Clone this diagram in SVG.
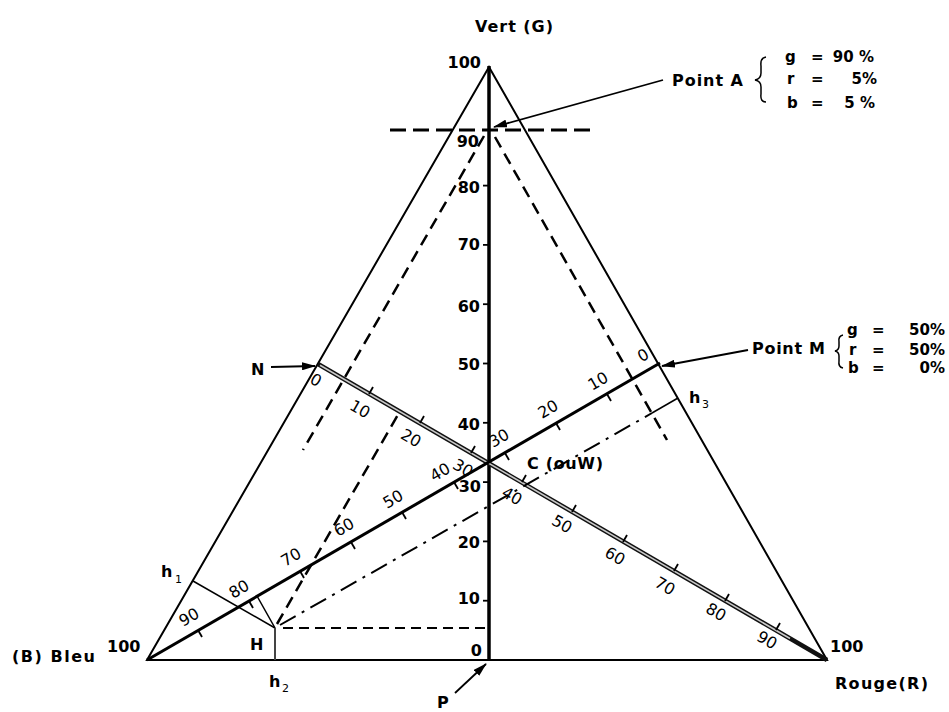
<svg xmlns="http://www.w3.org/2000/svg" width="949" height="712" viewBox="0 0 949 712">
<defs>
<marker id="ah" markerUnits="userSpaceOnUse" markerWidth="14" markerHeight="8" viewBox="0 0 14 8" refX="13" refY="4" orient="auto">
<path d="M0,0 L14,4 L0,8 z" fill="#000"/>
</marker>
<style>
.side{stroke:#000;stroke-width:2;fill:none}
.axis{stroke:#000;stroke-width:3.5}
.bm{stroke:#000;stroke-width:3}
.thin{stroke:#000;stroke-width:1.5;fill:none}
.dash{stroke:#000;stroke-width:2.5;stroke-dasharray:12 7;fill:none}
.dashA{stroke:#000;stroke-width:3;stroke-dasharray:16 7}
.dashH{stroke:#000;stroke-width:2;stroke-dasharray:10 6}
.dashdot{stroke:#000;stroke-width:2;stroke-dasharray:18 7 3 7;fill:none}
.tick{stroke:#000;stroke-width:1.8}
.arrow{stroke:#000;stroke-width:1.8;marker-end:url(#ah)}
.lab{font-family:"DejaVu Sans",sans-serif;font-weight:bold;font-size:16px;fill:#000}
.ax{font-family:"DejaVu Sans",sans-serif;font-weight:bold;font-size:16px;fill:#000;text-anchor:end}
.sc{font-family:"DejaVu Sans",sans-serif;font-size:16px;fill:#000;text-anchor:middle}
.pct{font-family:"DejaVu Sans",sans-serif;font-weight:bold;font-size:15px;fill:#000}
.sub{font-family:"DejaVu Sans",sans-serif;font-size:11px;fill:#000}
</style>
</defs>
<rect width="949" height="712" fill="#fff"/>

<g id="triangle">
<polygon class="side" points="147,660 827,660 489,67"/>
</g>

<g id="axis-g">
<line class="axis" x1="489" y1="66" x2="489" y2="661"/>
<g class="tick">
<line x1="483" y1="600.7" x2="489" y2="600.7"/>
<line x1="483" y1="541.4" x2="489" y2="541.4"/>
<line x1="483" y1="482.1" x2="489" y2="482.1"/>
<line x1="483" y1="422.8" x2="489" y2="422.8"/>
<line x1="483" y1="363.5" x2="489" y2="363.5"/>
<line x1="483" y1="304.2" x2="489" y2="304.2"/>
<line x1="483" y1="244.9" x2="489" y2="244.9"/>
<line x1="483" y1="185.6" x2="489" y2="185.6"/>
</g>
<text class="ax" x="481" y="68">100</text>
<text class="ax" x="479" y="141" dy="0.35em">90</text>
<text class="ax" x="480" y="187" dy="0.35em">80</text>
<text class="ax" x="480" y="244" dy="0.35em">70</text>
<text class="ax" x="480" y="306" dy="0.35em">60</text>
<text class="ax" x="480" y="364" dy="0.35em">50</text>
<text class="ax" x="480" y="424" dy="0.35em">40</text>
<text class="ax" x="481" y="486" dy="0.35em">30</text>
<text class="ax" x="480" y="542" dy="0.35em">20</text>
<text class="ax" x="480" y="598" dy="0.35em">10</text>
<text class="ax" x="482" y="650" dy="0.35em">0</text>
</g>

<g id="median-NR">
<line x1="318" y1="364" x2="827" y2="660" stroke="#111" stroke-width="4.5"/>
<line x1="320" y1="365.2" x2="790" y2="638.5" stroke="#c8c8c8" stroke-width="1.6"/>
<g class="tick">
<line x1="369" y1="394" x2="373" y2="387"/>
<line x1="420" y1="423" x2="424" y2="416"/>
<line x1="471" y1="453" x2="475" y2="446"/>
<line x1="522" y1="482" x2="526" y2="475"/>
<line x1="572" y1="512" x2="576" y2="505"/>
<line x1="623" y1="542" x2="627" y2="535"/>
<line x1="674" y1="571" x2="678" y2="564"/>
<line x1="725" y1="601" x2="729" y2="594"/>
<line x1="776" y1="630" x2="780" y2="623"/>
</g>
<text class="sc" transform="translate(316,380) rotate(30)" dy="0.35em">0</text>
<text class="sc" transform="translate(360,409) rotate(30)" dy="0.35em">10</text>
<text class="sc" transform="translate(411,438) rotate(30)" dy="0.35em">20</text>
<text class="sc" transform="translate(463,468) rotate(30)" dy="0.35em">30</text>
<text class="sc" transform="translate(512,496) rotate(30)" dy="0.35em">40</text>
<text class="sc" transform="translate(562,524) rotate(30)" dy="0.35em">50</text>
<text class="sc" transform="translate(615,556) rotate(30)" dy="0.35em">60</text>
<text class="sc" transform="translate(665,586) rotate(30)" dy="0.35em">70</text>
<text class="sc" transform="translate(716,612) rotate(30)" dy="0.35em">80</text>
<text class="sc" transform="translate(767,640) rotate(30)" dy="0.35em">90</text>
</g>

<g id="median-BM">
<line class="bm" x1="147" y1="660" x2="660" y2="363"/>
<g class="tick">
<line x1="607" y1="394" x2="611" y2="401"/>
<line x1="556" y1="423" x2="560" y2="430"/>
<line x1="505" y1="453" x2="509" y2="460"/>
<line x1="454" y1="482" x2="458" y2="489"/>
<line x1="402" y1="512" x2="406" y2="519"/>
<line x1="351" y1="542" x2="355" y2="549"/>
<line x1="300" y1="571" x2="304" y2="578"/>
<line x1="249" y1="601" x2="253" y2="608"/>
<line x1="198" y1="630" x2="202" y2="637"/>
</g>
<text class="sc" transform="translate(643,355) rotate(-30)" dy="0.35em">0</text>
<text class="sc" transform="translate(598,381) rotate(-30)" dy="0.35em">10</text>
<text class="sc" transform="translate(548,409) rotate(-30)" dy="0.35em">20</text>
<text class="sc" transform="translate(499,438) rotate(-30)" dy="0.35em">30</text>
<text class="sc" transform="translate(440,472) rotate(-30)" dy="0.35em">40</text>
<text class="sc" transform="translate(393,499) rotate(-30)" dy="0.35em">50</text>
<text class="sc" transform="translate(344,527) rotate(-30)" dy="0.35em">60</text>
<text class="sc" transform="translate(291,557) rotate(-30)" dy="0.35em">70</text>
<text class="sc" transform="translate(239,589) rotate(-30)" dy="0.35em">80</text>
<text class="sc" transform="translate(189,617) rotate(-30)" dy="0.35em">90</text>
</g>

<g id="point-A-lines">
<line class="dashA" x1="390" y1="130" x2="594" y2="130"/>
<line class="dash" x1="484" y1="136" x2="303" y2="450"/>
<line class="dash" x1="495" y1="137" x2="667" y2="440"/>
</g>

<g id="point-H">
<line class="thin" x1="275" y1="628" x2="193" y2="581"/>
<line class="thin" x1="275" y1="628" x2="257" y2="596"/>
<line x1="275" y1="628" x2="275" y2="660" stroke="#444" stroke-width="2"/>
<line class="dashH" x1="283" y1="628" x2="489" y2="628"/>
<line class="dash" x1="277" y1="624" x2="399" y2="413"/>
<line class="dashdot" x1="280" y1="625" x2="652" y2="413"/>
<line class="thin" x1="652" y1="413" x2="678" y2="398" stroke-width="2"/>
<text class="lab" x="250" y="650">H</text>
<text class="lab" x="161" y="577" font-weight="normal">h</text><text class="sub" x="175" y="583">1</text>
<text class="lab" x="269" y="687" font-weight="normal">h</text><text class="sub" x="282" y="692">2</text>
<text class="lab" x="689" y="403" font-weight="normal">h</text><text class="sub" x="702" y="408">3</text>
</g>

<g id="connectors">
<line class="arrow" x1="663" y1="80" x2="494" y2="127"/>
<line class="arrow" x1="748" y1="350" x2="662" y2="366"/>
<line class="arrow" x1="271" y1="367" x2="315" y2="366"/>
<line class="arrow" x1="455" y1="693" x2="486" y2="664"/>
</g>

<g id="label-vert">
<text class="lab" x="475" y="32" textLength="78" lengthAdjust="spacing">Vert (G)</text>
</g>

<g id="label-point-A">
<text class="lab" x="672" y="86" textLength="71" lengthAdjust="spacing">Point A</text>
<path class="thin" stroke-width="2" d="M766,57 Q760,58 761,66 L761,73 Q761,79 755,80 Q761,81 761,87 L761,94 Q760,102 766,102"/>
<text class="pct" x="785" y="62">g</text><text class="pct" x="811" y="62">=</text><text class="pct" x="874" y="62" text-anchor="end">90 %</text>
<text class="pct" x="787" y="84">r</text><text class="pct" x="811" y="84">=</text><text class="pct" x="877" y="84" text-anchor="end">5%</text>
<text class="pct" x="787" y="108">b</text><text class="pct" x="811" y="108">=</text><text class="pct" x="875" y="108" text-anchor="end">5 %</text>
</g>

<g id="label-point-M">
<text class="lab" x="752" y="354" textLength="73" lengthAdjust="spacing">Point M</text>
<path class="thin" stroke-width="2" d="M843,335 Q838,336 839,342 L839,346 Q839,350 835,351 Q839,352 839,356 L839,361 Q838,367 843,368"/>
<text class="pct" x="847" y="335">g</text><text class="pct" x="872" y="335">=</text><text class="pct" x="945" y="335" text-anchor="end">50%</text>
<text class="pct" x="849" y="355">r</text><text class="pct" x="872" y="355">=</text><text class="pct" x="945" y="355" text-anchor="end">50%</text>
<text class="pct" x="848" y="373">b</text><text class="pct" x="872" y="373">=</text><text class="pct" x="945" y="373" text-anchor="end">0%</text>
</g>

<g id="label-N"><text class="lab" x="251" y="375">N</text></g>
<g id="label-P"><text class="lab" x="437" y="708" font-weight="normal" font-size="14">P</text></g>
<g id="label-C"><text class="lab" x="527" y="469" textLength="76" lengthAdjust="spacing">C (ouW)</text></g>
<g id="label-B">
<text class="lab" x="12" y="662" textLength="83" lengthAdjust="spacing">(B) Bleu</text>
<text class="lab" x="107" y="652" font-weight="normal">100</text>
</g>
<g id="label-R">
<text class="lab" x="830" y="652" font-weight="normal">100</text>
<text class="lab" x="835" y="689" textLength="93" lengthAdjust="spacing" font-weight="normal">Rouge(R)</text>
</g>
</svg>
